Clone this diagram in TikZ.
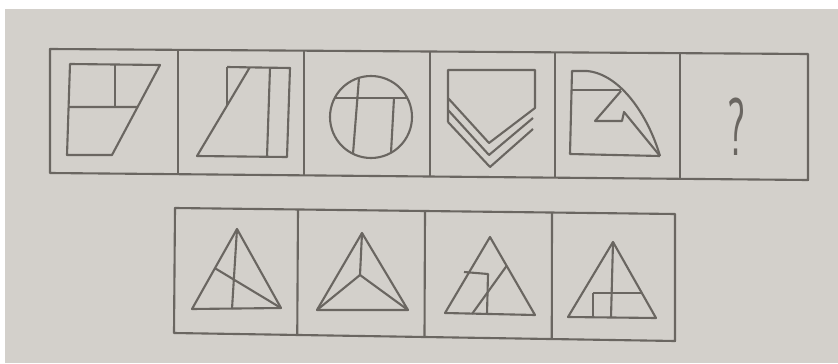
\documentclass[tikz,border=0pt]{standalone}
\usepackage{fontspec}
\usepackage{tikz}
\usetikzlibrary{calc}
\definecolor{paper}{HTML}{D3D0CB}
\definecolor{pencil}{HTML}{6A6661}

\begin{document}
\begin{tikzpicture}[x=0.03cm,y=-0.03cm,line width=1.8pt,color=pencil,line join=round]
  \fill[white] (0,0) rectangle (838,363);
  \fill[paper] (5,9) rectangle (838,363);
  \useasboundingbox (0,0) rectangle (838,363);
  % Top row
  \coordinate (TL) at (50,49);
  \coordinate (TR) at (808,54);
  \coordinate (BR) at (808,180);
  \coordinate (BL) at (50,173);
  \draw (TL)--(TR)--(BR)--(BL)--cycle;
  \foreach \x in {178,304,430,555,680}
    \draw ($(TL)!{(\x-50)/758}!(TR)$) -- ($(BL)!{(\x-50)/758}!(BR)$);
  % Figure 1
  \coordinate (P1) at (70,64);
  \coordinate (P2) at (160,65);
  \coordinate (P3) at (112,155);
  \coordinate (P4) at (67,155);
  \draw (P1)--(P2)--(P3)--(P4)--cycle;
  \draw (115,65)--(115,107);
  \draw (69,107)--($(P2)!0.467!(P3)$);
  % Figure 2
  \coordinate (Q1) at (227,67);
  \coordinate (Q2) at (290,68);
  \coordinate (Q3) at (287,157);
  \coordinate (Q4) at (197,156);
  \coordinate (Q5) at (250,67);
  \draw (Q1)--(Q2)--(Q3)--(Q4)--(Q5);
  \draw (Q1)--(227,105);
  \draw (270,68)--(267,157);
  % Figure 3
  \coordinate (O) at (371,117);
  \draw (O) circle [radius=41];
  \draw (334.7,98)--(407.3,98);
  \draw (359,77.8)--(353,153.8);
  \draw (394,98)--(391,152.8);
  % Figure 4
  \draw (448,122)--(448,70)--(535,70)--(535,108)--(489,143)--(448,98);
  \draw (448,110)--(489,155)--(533,118);
  \draw (448,122)--(490,167)--(533,129);
  % Figure 5
  \coordinate (S1) at (587,71);
  \coordinate (S2) at (660,156);
  \draw (S1)--(572,71)--(570,154)--(S2);
  \draw (S1) .. controls (620,74) and (648,115) .. (S2);
  \draw (572,90)--(621,90);
  \draw (621,91)--(595,121)--(622,121)--(624,112)--(S2);
  % Unknown
  \node[font=\sffamily\fontsize{70}{70}\selectfont,xscale=0.5] (qm) at (737,127) {?};
  % Bottom row
  \coordinate (UL) at (175,208);
  \coordinate (UR) at (675,214);
  \coordinate (LR) at (675,341);
  \coordinate (LL) at (174,333);
  \draw (UL)--(UR)--(LR)--(LL)--cycle;
  \foreach \x in {298,425,552}
    \draw ($(UL)!{(\x-175)/500}!(UR)$) -- ($(LL)!{(\x-175)/500}!(LR)$);
  % Option A
  \coordinate (A1) at (237,229);
  \coordinate (A2) at (192,309);
  \coordinate (A3) at (281,308);
  \draw (A1)--(A2)--(A3)--cycle;
  \draw (A1)--(232,309);
  \draw ($(A1)!0.49!(A2)$)--(A3);
  % Option B
  \coordinate (B1) at (362,233);
  \coordinate (B2) at (317,310);
  \coordinate (B3) at (408,310);
  \coordinate (B4) at (360,275);
  \draw (B1)--(B2)--(B3)--cycle;
  \draw (B1)--(B4);
  \draw (B2)--(B4)--(B3);
  % Option C
  \coordinate (C1) at (490,237);
  \coordinate (C2) at (445,313);
  \coordinate (C3) at (535,315);
  \draw (C1)--(C2)--(C3)--cycle;
  \draw (464,272)--(488,274)--(487,314);
  \draw ($(C1)!0.37!(C3)$)--(472,314);
  % Option D
  \coordinate (D1) at (613,242);
  \coordinate (D2) at (568,317);
  \coordinate (D3) at (656,318);
  \draw (D1)--(D2)--(D3)--cycle;
  \draw (D1)--(611,317.5);
  \draw (593,293)--(642,293);
  \draw (593,293)--(593,317.5);
\end{tikzpicture}
\end{document}
